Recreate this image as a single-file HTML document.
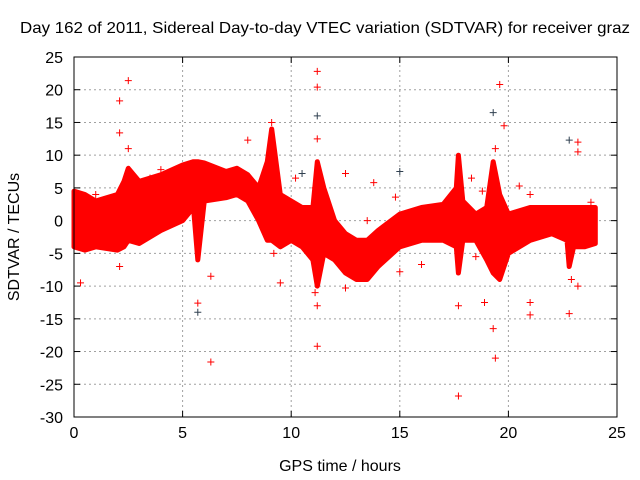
<!DOCTYPE html>
<html><head><meta charset="utf-8"><style>
body{margin:0;background:#fff;}
svg{display:block;font-family:"Liberation Sans",sans-serif;}
</style></head><body>
<svg id="chart" width="640" height="480">
<text x="20" y="33" font-size="16" textLength="610" lengthAdjust="spacingAndGlyphs" fill="#000">Day 162 of 2011, Sidereal Day-to-day VTEC variation (SDTVAR) for receiver graz</text>
<text x="340" y="471" text-anchor="middle" font-size="16" fill="#000">GPS time / hours</text>
<text transform="translate(19,237) rotate(-90)" text-anchor="middle" font-size="16" fill="#000">SDTVAR / TECUs</text>
<g id="grid"></g><g id="ticks"></g><g id="band"></g><g id="points"></g>
<rect x="74" y="57" width="543" height="360" fill="none" stroke="#000"/>
</svg>
<script>
const xTicks=[0,5,10,15,20,25];
const yTicks=[25,20,15,10,5,0,-5,-10,-15,-20,-25,-30];
const bandTime=[0,0.5,1,2,2.3,2.5,3,4,5,5.5,5.7,6,7,7.5,8,8.5,8.9,9.1,9.5,10,10.5,11,11.2,11.5,12,12.5,13,13.5,14,15,16,17,17.6,17.7,17.9,18.5,19,19.3,19.6,20,21,22,22.7,22.8,23,23.5,24];
const bandUpper=[4.5,4,3,4,6,8,6,7,8.5,9,9,8.8,7.5,8,7,5,9,14,4,3,2,2,9,5,0,-2,-3,-3,-1.5,1,2,2.5,5,10,3,1,2,9,4,1,2,2,2,2,2,2,2];
const bandLower=[-4,-4.5,-4,-4.5,-4,-3,-3.5,-1.5,0,2,-6,3,3.5,4,3,0,-3,-3,-4,-3,-4,-6,-10,-5,-6,-8,-9,-9,-7,-4,-3,-3,-4,-8,-3,-3,-6,-8,-9,-5,-3,-2,-3,-7,-4,-4,-3.5];
const outT=[2.1,2.1,2.5,2.5,2.1,0.3,5.7,5.7,6.3,6.3,8,9.1,9.5,9.2,11.2,11.2,11.2,11.2,11.2,11.2,12.5,12.5,13.5,13.8,14.8,15,15,16,17.7,17.7,18.3,18.5,18.8,18.9,19.3,19.3,19.4,19.6,19.8,20.5,21,21,21,22.8,22.8,23.2,23.2,23.2,23.8,3.5,4,10.2,10.5,1,11.1,11.1,19.4,22.9];
const outV=[18.3,13.4,21.4,11,-7,-9.5,-12.6,-14,-21.6,-8.5,12.3,15,-9.5,-5,22.8,20.4,16,12.5,-19.2,-13,-10.3,7.2,0,5.8,3.6,7.5,-7.8,-6.7,-13,-26.8,6.5,-5.5,4.5,-12.5,16.5,-16.5,-21,20.8,14.5,5.3,-12.5,-14.4,4,12.3,-14.2,12,10.5,-10,2.8,6.5,7.8,6.5,7.2,4,5,-11,11,-9];
const X0=74,X1=617,Y0=417,Y1=57;
const sx=t=>X0+(t-0)/25*(X1-X0);
const sy=v=>Y0-(v+30)/55*(Y0-Y1);
const NS='http://www.w3.org/2000/svg';
function mk(tag,attrs,parent){const e=document.createElementNS(NS,tag);for(const k in attrs)e.setAttribute(k,attrs[k]);parent.appendChild(e);return e;}
const grid=document.getElementById('grid'),ticks=document.getElementById('ticks');
xTicks.forEach(t=>{
 const x=sx(t);
 if(t>0&&t<25){const g=mk('line',{x1:x,x2:x,y1:Y0,y2:Y1,stroke:'#a0a0a0','stroke-dasharray':'2,3','stroke-width':1},grid);
 
 }
 mk('line',{x1:x,x2:x,y1:Y0,y2:Y0-6,stroke:'#000'},ticks);
 mk('line',{x1:x,x2:x,y1:Y1,y2:Y1+6,stroke:'#000'},ticks);
 const l=mk('text',{x:x,y:Y0+21,'text-anchor':'middle','font-size':16},ticks);l.textContent=t;
 
 
});
yTicks.forEach(v=>{
 const y=sy(v);
 if(v>-30&&v<25){const g=mk('line',{x1:X0,x2:X1,y1:y,y2:y,stroke:'#a0a0a0','stroke-dasharray':'2,3','stroke-width':1},grid);
 
 }
 mk('line',{x1:X0,x2:X0+6,y1:y,y2:y,stroke:'#000'},ticks);
 mk('line',{x1:X1,x2:X1-6,y1:y,y2:y,stroke:'#000'},ticks);
 const l=mk('text',{x:X0-11,y:y+6,'text-anchor':'end','font-size':16},ticks);l.textContent=v;
 
 
});
let d='';
bandTime.forEach((t,i)=>{d+=(i?'L':'M')+sx(t).toFixed(1)+','+sy(bandUpper[i]).toFixed(1);});
for(let i=bandTime.length-1;i>=0;i--)d+='L'+sx(bandTime[i]).toFixed(1)+','+sy(bandLower[i]).toFixed(1);
d+='Z';
const band=mk('path',{d:d,fill:'#ff0000',stroke:'#ff0000','stroke-width':5,'stroke-linejoin':'round'},document.getElementById('band'));


const pts=document.getElementById('points');
outT.forEach((t,i)=>{
 const x=sx(t),y=sy(outV[i]);
 const p=mk('path',{d:`M${x-3.5},${y}H${x+3.5}M${x},${y-3.5}V${y+3.5}`,stroke:(i%9==7)?'#304050':'#ff0000','stroke-width':1},pts);
 
 
});
</script>
</body></html>
